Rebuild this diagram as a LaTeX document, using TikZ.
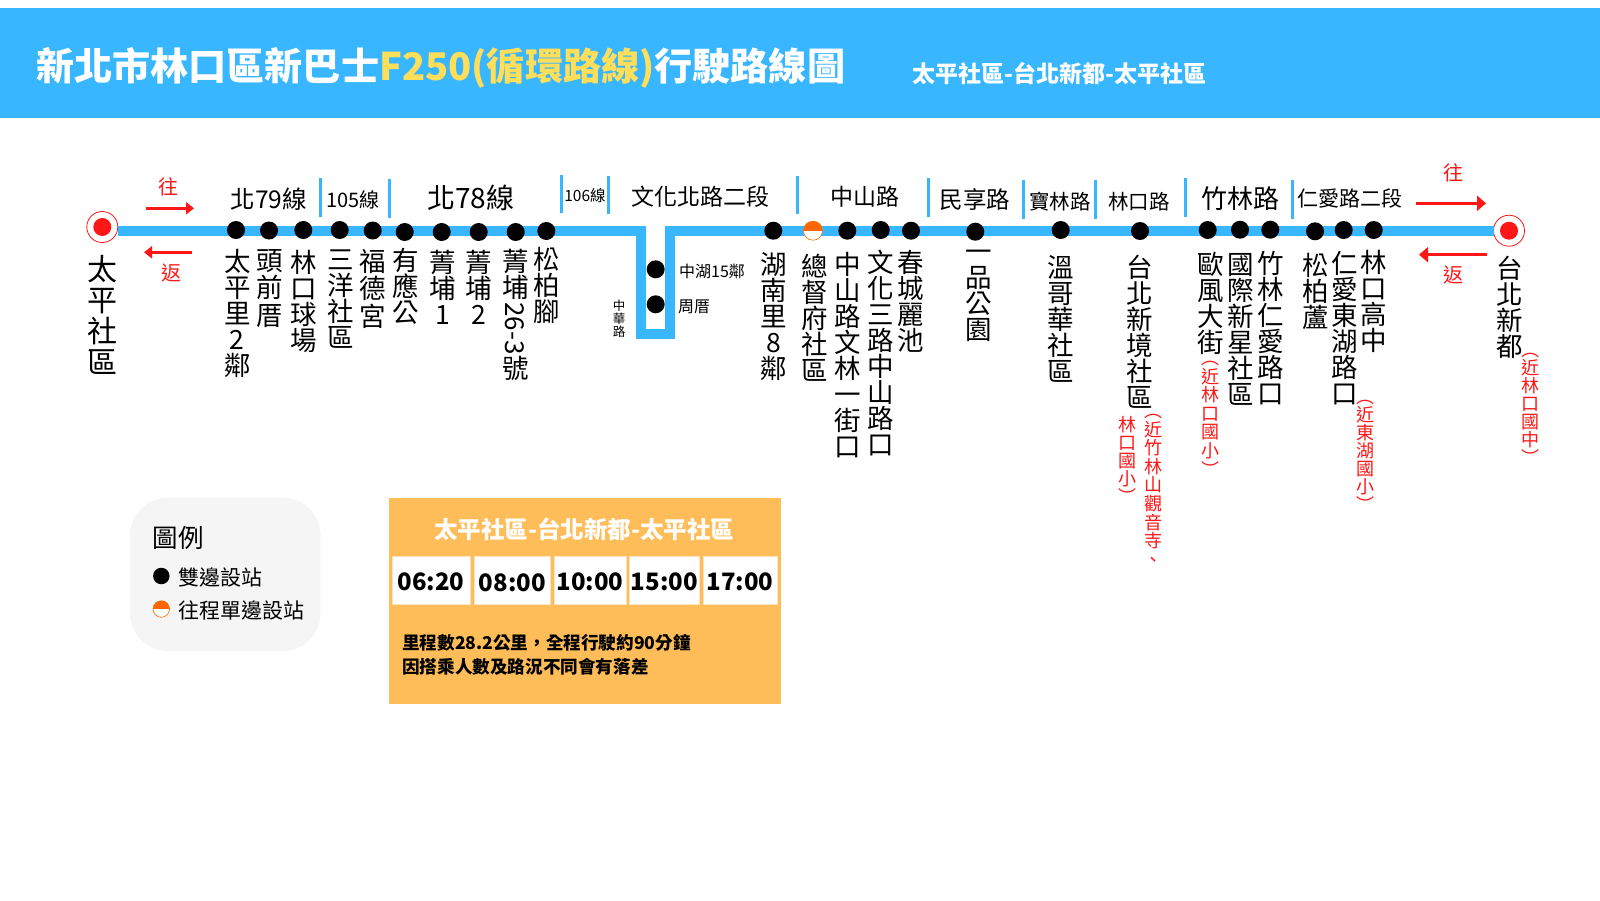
\documentclass[tikz,border=0pt]{standalone}
\usepackage{fontspec}
\setmainfont{Noto Sans CJK TC}
\newfontfamily\heavyf{Noto Sans CJK TC Black}
\usetikzlibrary{arrows.meta}
\definecolor{sky}{HTML}{38B6FF}
\definecolor{sun}{HTML}{FFDE59}
\definecolor{amber}{HTML}{FFBD59}
\definecolor{signal}{HTML}{FF1616}
\definecolor{halfo}{HTML}{FF6600}
\definecolor{pale}{HTML}{F5F5F5}
\tikzset{
  route/.style={draw=sky,line width=10pt,line join=miter},
  sep/.style={draw=sky,line width=3pt},
  stopdot/.style={circle,fill=black,minimum size=18pt,inner sep=0},
  halfdot/.style={circle,draw=halfo,line width=.6pt,fill=white,minimum size=#1,inner sep=0,
    path picture={\fill[halfo] (path picture bounding box.north west) rectangle (path picture bounding box.east);}},
  halfdot/.default=19pt,
  termring/.style={circle,draw=signal,line width=.8pt,fill=white,minimum size=31pt,inner sep=0},
  termcore/.style={circle,fill=signal,minimum size=18pt,inner sep=0},
  vl/.style={align=center,anchor=north,inner sep=0,xshift=.7pt,font=\fontsize{26.5}{26}\selectfont,execute at begin node={\lineskiplimit=-100pt\rule{0pt}{.9em}}},
  vt/.style={vl,font=\fontsize{26.5}{27.5}\selectfont},
  vb/.style={vl,font=\fontsize{30}{31}\selectfont},
  vr/.style={vl,text=signal,font=\fontsize{18}{18}\selectfont},
  vrw/.style={vl,text=signal,font=\fontsize{18}{18.6}\selectfont},
  vs/.style={vl,font=\fontsize{12.5}{13}\selectfont},
  hl/.style={inner sep=0,font=\fontsize{#1}{#1}\selectfont},
  dir/.style={inner sep=0,text=signal,font=\fontsize{20}{20}\selectfont},
  arrS/.style={draw=signal,line width=3pt,-{Triangle[length=8pt,width=12pt]}},
  arrL/.style={draw=signal,line width=3.5pt,-{Triangle[length=9pt,width=15pt]}},
  timebox/.style={fill=white,draw=white!60!amber,line width=.6pt,inner sep=0,font=\fontsize{24}{24}\selectfont\heavyf},
}
\begin{document}
\begin{tikzpicture}[x=1pt,y=-1pt]
\useasboundingbox (0,0) rectangle (1600,900);
\fill[white] (0,0) rectangle (1600,900);
% header
\fill[sky] (0,8) rectangle (1600,118);
\node[anchor=west,inner sep=0,text=white,font=\fontsize{38.1}{38.1}\selectfont\bfseries] (title) at (36,68) {新北市林口區新巴士\textcolor{sun}{F250(循環路線)}行駛路線圖};
\node[anchor=west,inner sep=0,text=white,font=\fontsize{23}{23}\selectfont\bfseries] (subtitle) at (912.5,74) {太平社區-台北新都-太平社區};
% terminals
\node[termring] (ta) at (102.3,227) {};
\node[termcore] (tac) at (102.3,227) {};
\node[termring] (tb) at (1509,230.7) {};
\node[termcore] (tbc) at (1509,230.7) {};
% route
\coordinate (ra) at (640.7,230.7);
\coordinate (rb) at (640.7,334);
\coordinate (rc) at (670,334);
\coordinate (rd) at (670,231.2);
\coordinate (re) at (1493.5,231.2);
\coordinate (rs) at (117.8,230.7);
\draw[route] (rs) -- (ra) -- (rb) -- (rc) -- (rd) -- (re);
% separators
\foreach \n/\x/\a/\b in {a/320/178/216.7,b/389/179/217.7,c/561.3/175/213,d/608/175.7/214,e/797/175.7/214,f/928.3/178/217.3,g/1023/180/218.7,h/1095.7/180/218.7,i/1185.3/178/216.7,j/1292/180/218.7}{
  \coordinate (sep\n t) at (\x,\a);
  \coordinate (sep\n b) at (\x,\b);
  \draw[sep] (sep\n t) -- (sep\n b);
}
% stops
\node[stopdot] (s1) at (236,230) {};
\node[stopdot] (s2) at (269,230.5) {};
\node[stopdot] (s3) at (303.3,230) {};
\node[stopdot] (s4) at (339.7,230) {};
\node[stopdot] (s5) at (372.7,230.5) {};
\node[stopdot] (s6) at (404.7,232) {};
\node[stopdot] (s7) at (441.7,232) {};
\node[stopdot] (s8) at (478.7,232) {};
\node[stopdot] (s9) at (515.7,232) {};
\node[stopdot] (s10) at (546.3,231) {};
\node[stopdot] (u1) at (655.7,269.3) {};
\node[stopdot] (u2) at (655.7,304.3) {};
\node[stopdot] (s11) at (773.3,230.7) {};
\node[halfdot] (s12) at (813,230.7) {};
\node[stopdot] (s13) at (847.3,230.7) {};
\node[stopdot] (s14) at (880.7,230) {};
\node[stopdot] (s15) at (911,230.7) {};
\node[stopdot] (s16) at (975.3,231.7) {};
\node[stopdot] (s17) at (1060.7,230) {};
\node[stopdot] (s18) at (1140,231) {};
\node[stopdot] (s19) at (1207.7,230) {};
\node[stopdot] (s20) at (1240,229.7) {};
\node[stopdot] (s21) at (1270.3,229.7) {};
\node[stopdot] (s22) at (1315,231.3) {};
\node[stopdot] (s23) at (1343.7,230) {};
\node[stopdot] (s24) at (1373.7,230) {};
% road labels
\node[hl=24.5] (r1) at (268.8,199) {北79線};
\node[hl=20] (r2) at (352.8,200) {105線};
\node[hl=28] (r3) at (470.7,197.5) {北78線};
\node[hl=15.5] (r4) at (585,196) {106線};
\node[hl=23] (r5) at (700,197) {文化北路二段};
\node[hl=23] (r6) at (865,197) {中山路};
\node[hl=23.5] (r7) at (975,200) {民享路};
\node[hl=20.5] (r8) at (1060,201.5) {寶林路};
\node[hl=20.5] (r9) at (1139,201.5) {林口路};
\node[hl=26] (r10) at (1240.7,198.5) {竹林路};
\node[hl=21] (r11) at (1350,198.5) {仁愛路二段};
\node[hl=16] (r12) at (712,271.5) {中湖15鄰};
\node[hl=16] (r13) at (694,307) {周厝};
\node[vs] (r14) at (618.3,300) {中\\華\\路};
% direction arrows
\node[dir] (d1) at (168.3,186.7) {往};
\node[dir] (d2) at (171,273) {返};
\node[dir] (d3) at (1453,172.7) {往};
\node[dir] (d4) at (1453,275) {返};
\coordinate (a1s) at (146,208.3); \coordinate (a1e) at (194,208.3);
\coordinate (a2s) at (192.3,252.3); \coordinate (a2e) at (144,252.3);
\coordinate (a3s) at (1416,203.3); \coordinate (a3e) at (1486,203.3);
\coordinate (a4s) at (1486.7,254.7); \coordinate (a4e) at (1419,254.7);
\draw[arrS] (a1s) -- (a1e);
\draw[arrS] (a2s) -- (a2e);
\draw[arrL] (a3s) -- (a3e);
\draw[arrL] (a4s) -- (a4e);
% stop names
\node[vb] (n0) at (101.6,255.5) {太\\平\\社\\區};
\node[vl] (n1) at (236.6,249) {太\\平\\里\\2\\鄰};
\node[vt] (n2) at (269,249) {頭\\前\\厝};
\node[vl] (n3) at (303,250) {林\\口\\球\\場};
\node[vl] (n4) at (340,250) {三\\洋\\社\\區};
\node[vt] (n5) at (372,249) {福\\德\\宮};
\node[vl] (n6) at (405,248) {有\\應\\公};
\node[vl] (n7) at (441.7,250) {菁\\埔\\1};
\node[vl] (n8) at (478,250) {菁\\埔\\2};
\node[vl] (n9a) at (515,249) {菁\\埔};
\node[inner sep=0,rotate=-90,font=\fontsize{26}{26}\selectfont] (n9b) at (514.7,328.5) {26-3};
\node[vl] (n9c) at (515,354) {號};
\node[vl] (n10) at (545.7,247) {松\\柏\\腳};
\node[vl] (n11) at (773,252) {湖\\南\\里\\8\\鄰};
\node[vl] (n12) at (813.7,254) {總\\督\\府\\社\\區};
\node[vl] (n13) at (847.3,252) {中\\山\\路\\文\\林\\一\\街\\口};
\node[vl] (n14) at (880,250) {文\\化\\三\\路\\中\\山\\路\\口};
\node[vl] (n15) at (910,250.5) {春\\城\\麗\\池};
\node[vl] (n16) at (978,250) {一\\品\\公\\園};
\node[vl] (n17) at (1060,255) {溫\\哥\\華\\社\\區};
\node[vl] (n18) at (1139,255) {台\\北\\新\\境\\社\\區};
\node[vl] (n19) at (1210,252) {歐\\風\\大\\街};
\node[vl] (n20) at (1240,253) {國\\際\\新\\星\\社\\區};
\node[vl] (n21) at (1270,251) {竹\\林\\仁\\愛\\路\\口};
\node[vl] (n22) at (1315,253) {松\\柏\\蘆};
\node[vl] (n23) at (1344,251) {仁\\愛\\東\\湖\\路\\口};
\node[vl] (n24) at (1373,250) {林\\口\\高\\中};
\node[vl] (n25) at (1509,256) {台\\北\\新\\都};
% red notes
\node[vrw] (m1) at (1152.5,414) {︵\\近\\竹\\林\\山\\觀\\音\\寺\\、};
\node[vr] (m2) at (1127,416) {林\\口\\國\\小\\︶};
\node[vrw] (m3) at (1209.5,361) {︵\\近\\林\\口\\國\\小\\︶};
\node[vr] (m4) at (1364.5,400) {︵\\近\\東\\湖\\國\\小\\︶};
\node[vr] (m5) at (1529.5,353) {︵\\近\\林\\口\\國\\中\\︶};
% legend
\node[fill=pale,rounded corners=38pt,minimum width=190.7pt,minimum height=153.3pt,inner sep=0] (legend) at (225.3,574.3) {};
\node[hl=25.5] (lt) at (178,538) {圖例};
\node[stopdot,minimum size=16.5pt] (l1) at (161.3,576) {};
\node[halfdot=16.5pt] (l2) at (161.3,609) {};
\node[hl=21,anchor=west] (l1t) at (178.3,577.7) {雙邊設站};
\node[hl=21,anchor=west] (l2t) at (178.3,610.7) {往程單邊設站};
% timetable
\fill[amber] (388.6,497.7) rectangle (781,704.3);
\node[inner sep=0,text=white,font=\fontsize{23.5}{23.5}\selectfont\bfseries] (tt) at (584,529) {太平社區-台北新都-太平社區};
\node[timebox,minimum width=78pt,minimum height=48.3pt] (t1) at (431,580.2) {\raisebox{-2pt}[\height][\depth]{06:20}};
\node[timebox,minimum width=76.6pt,minimum height=48.3pt] (t2) at (512.3,580.2) {\raisebox{-3pt}[\height][\depth]{08:00}};
\node[timebox,minimum width=72pt,minimum height=48.3pt] (t3) at (590,580.2) {\raisebox{-2pt}[\height][\depth]{10:00}};
\node[timebox,minimum width=69.4pt,minimum height=48.3pt] (t4) at (664.3,580.2) {\raisebox{-2pt}[\height][\depth]{15:00}};
\node[timebox,minimum width=74pt,minimum height=48.3pt] (t5) at (740,580.2) {\raisebox{-2pt}[\height][\depth]{17:00}};
\node[anchor=west,inner sep=0,font=\fontsize{17.6}{17.6}\selectfont\heavyf] (i1) at (402,642.5) {里程數28.2公里^^^^ff0c全程行駛約90分鐘};
\node[anchor=west,inner sep=0,font=\fontsize{17.6}{17.6}\selectfont\heavyf] (i2) at (402,667) {因搭乘人數及路況不同會有落差};
\end{tikzpicture}
\end{document}
